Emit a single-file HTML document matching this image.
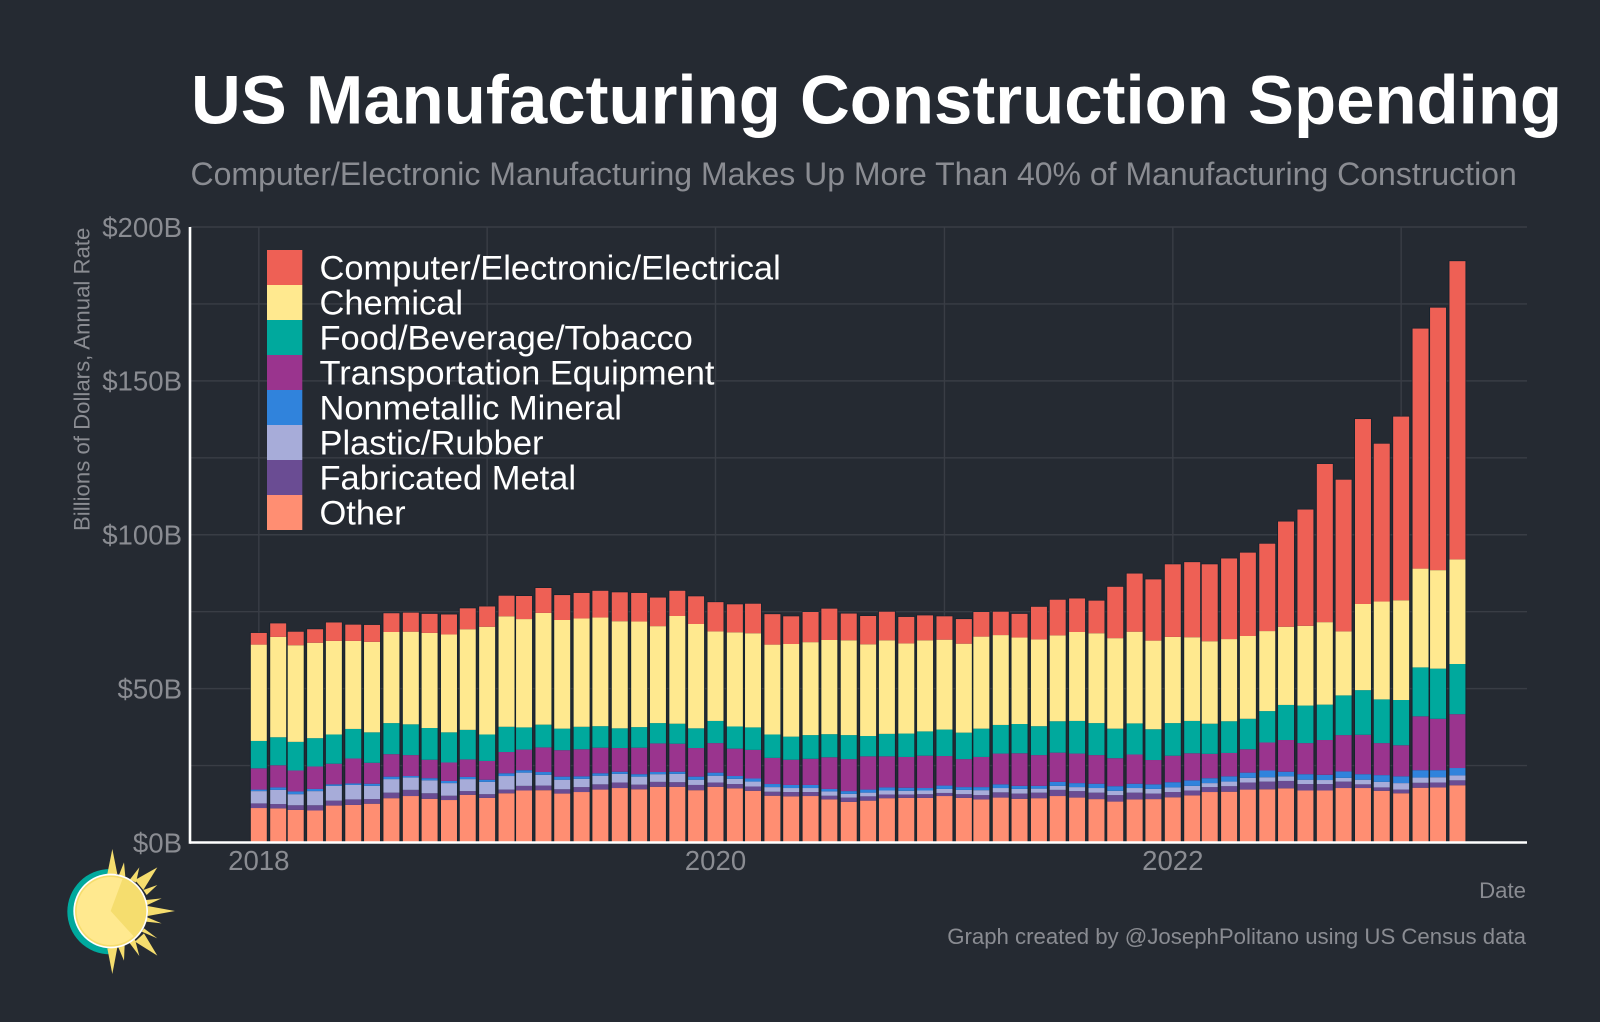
<!DOCTYPE html>
<html lang="en">
<head>
<meta charset="utf-8">
<title>US Manufacturing Construction Spending</title>
<style>
  html, body { margin: 0; padding: 0; background: #252A32; }
  #chart { display: block; width: 1600px; height: 1022px; font-family: "Liberation Sans", Arial, sans-serif; }
</style>
</head>
<body>
<svg id="chart" xmlns="http://www.w3.org/2000/svg" width="1600" height="1022" viewBox="0 0 1600 1022">
  <rect x="0" y="0" width="1600" height="1022" fill="#252A32"/>
  <text x="191" y="123.5" font-size="68.95" font-weight="700" fill="#ffffff">US Manufacturing Construction Spending</text>
  <text x="190.5" y="185" font-size="32" fill="#8A8C92">Computer/Electronic Manufacturing Makes Up More Than 40% of Manufacturing Construction</text>
  <g id="grid"></g>
  <g id="bars"></g>
  <g id="axes"></g>
  <g id="legend"></g>
  <text transform="translate(89.5,531) rotate(-90)" font-size="22.2" fill="#8A8C92">Billions of Dollars, Annual Rate</text>
  <text x="1526" y="898" text-anchor="end" font-size="22.2" fill="#8A8C92">Date</text>
  <text x="1526" y="944" text-anchor="end" font-size="22.2" fill="#8A8C92">Graph created by @JosephPolitano using US Census data</text>
  <g transform="translate(50,830) scale(0.3333)">
    <path d="M180 117 A128 128 0 0 0 180 373 Z" fill="#00A99D"/>
    <g fill="#F5DD6E">
      <polygon points="187,57 172,132 202,132"/>
      <polygon points="222,97 207,135 226,140"/>
      <polygon points="268,112 240,148 258,158"/>
      <polygon points="322,112 255,150 280,180"/>
      <polygon points="322,165 280,180 290,195"/>
      <polygon points="335,205 288,210 292,225"/>
      <polygon points="375,243 293,228 293,258"/>
      <polygon points="335,280 292,262 288,275"/>
      <polygon points="322,325 282,295 275,305"/>
      <polygon points="322,377 255,335 282,310"/>
      <polygon points="268,378 238,338 255,328"/>
      <polygon points="222,392 205,352 224,345"/>
      <polygon points="187,432 172,355 202,352"/>
    </g>
    <circle cx="182" cy="243" r="112" fill="#ffffff"/>
    <circle cx="182" cy="243" r="107" fill="#F5DD6E"/>
    <circle cx="182" cy="243" r="102" fill="#FFE98F"/>
    <path d="M182 243 L218 146 A104 104 0 0 1 252 320 Z" fill="#F5DD6E"/>
  </g>
</svg>
<script>
const months = [
"2018-01","2018-02","2018-03","2018-04","2018-05","2018-06","2018-07","2018-08","2018-09","2018-10","2018-11","2018-12",
"2019-01","2019-02","2019-03","2019-04","2019-05","2019-06","2019-07","2019-08","2019-09","2019-10","2019-11","2019-12",
"2020-01","2020-02","2020-03","2020-04","2020-05","2020-06","2020-07","2020-08","2020-09","2020-10","2020-11","2020-12",
"2021-01","2021-02","2021-03","2021-04","2021-05","2021-06","2021-07","2021-08","2021-09","2021-10","2021-11","2021-12",
"2022-01","2022-02","2022-03","2022-04","2022-05","2022-06","2022-07","2022-08","2022-09","2022-10","2022-11","2022-12",
"2023-01","2023-02","2023-03","2023-04"];

const other = [11.2,11.1,10.6,10.4,12.0,12.2,12.6,14.4,15.1,14.2,13.8,15.5,14.5,16.0,16.9,17.0,15.9,16.4,17.2,17.7,17.3,18.1,18.1,17.0,18.1,17.6,16.8,15.2,15.0,15.1,14.0,13.2,13.6,14.4,14.5,14.5,15.1,14.5,14.0,14.6,14.2,14.4,15.1,14.6,14.1,13.3,14.0,14.1,14.7,15.3,16.4,16.5,17.2,17.3,17.6,16.9,16.9,17.7,17.7,16.8,16.0,17.8,17.9,18.6];
const fabricatedMetal = [1.5,1.4,1.5,1.7,1.6,1.8,1.5,1.8,2.0,1.8,1.4,1.2,1.2,1.2,1.5,1.5,1.4,1.6,1.7,1.8,1.5,1.6,1.5,1.7,1.4,1.4,1.4,1.3,1.4,1.3,1.2,1.4,1.4,1.2,1.1,1.2,1.0,1.2,1.4,1.7,1.7,1.8,2.0,2.1,2.1,2.1,2.2,1.8,1.7,1.6,1.6,1.8,2.3,2.5,2.4,2.1,2.1,2.1,1.2,1.1,1.2,1.6,1.6,1.6];
const plasticRubber = [4.0,4.6,3.6,4.6,4.8,4.7,4.3,4.4,4.0,4.2,4.1,3.9,4.0,4.4,4.3,3.5,3.1,2.7,2.8,2.8,2.6,2.5,2.7,1.7,2.2,1.7,1.6,1.5,1.3,1.3,1.4,1.2,1.2,1.3,1.2,1.2,1.3,1.4,1.6,1.4,1.5,1.3,1.3,1.3,1.5,1.4,1.5,1.5,1.5,1.5,1.3,1.5,1.5,1.4,1.5,1.4,1.3,1.2,1.5,1.8,2.1,1.7,1.7,1.6];
const nonmetallicMineral = [0.5,0.8,0.9,0.7,0.5,0.5,0.7,0.8,0.5,0.7,0.7,0.7,0.7,0.9,0.8,0.9,1.0,0.8,0.8,0.7,0.8,0.7,0.7,1.0,1.0,0.9,1.0,1.0,1.0,1.0,0.8,0.9,1.0,1.0,1.0,0.8,1.1,0.9,1.0,1.2,1.0,0.9,1.3,1.3,1.4,1.5,1.4,1.5,1.7,1.8,1.6,1.7,1.7,2.2,1.5,1.8,1.7,2.1,1.8,2.2,2.2,2.4,2.3,2.4];
const transportation = [6.9,7.2,6.8,7.3,6.7,8.1,6.8,7.3,6.8,6.0,6.0,5.7,6.1,6.9,6.7,8.0,8.6,8.8,8.3,7.7,8.6,9.3,9.1,9.3,9.6,8.9,9.3,8.5,8.2,8.5,10.3,10.4,10.8,10.1,10.0,10.5,9.6,9.1,9.8,10.0,10.6,10.0,9.5,9.6,9.3,9.1,9.5,7.9,8.6,8.8,7.9,7.6,7.6,9.1,10.3,10.1,11.3,11.8,12.8,10.4,10.1,17.5,16.7,17.5];
const foodBeverage = [8.9,9.1,9.3,9.2,9.5,9.6,9.9,10.1,10.0,10.3,9.8,9.6,8.6,8.2,7.2,7.4,7.0,7.3,7.0,6.4,6.7,6.6,6.5,6.4,7.2,7.2,7.3,7.6,7.5,7.7,7.5,7.8,6.6,7.3,7.6,7.9,8.6,8.6,9.2,9.3,9.5,9.4,10.2,10.6,10.4,9.6,10.1,10.0,10.6,10.5,9.8,10.3,9.9,10.2,11.4,12.2,11.5,12.9,14.5,14.2,14.7,15.9,16.3,16.3];
const chemical = [31.3,32.6,31.4,31.0,30.4,28.6,29.4,29.6,30.1,30.9,31.8,32.7,35.0,35.9,35.2,36.3,35.3,35.2,35.3,34.8,34.3,31.5,35.0,33.9,29.1,30.6,30.6,29.2,30.1,30.2,30.6,30.8,29.8,30.4,29.3,29.6,29.2,28.9,29.9,29.2,28.1,28.2,27.9,28.9,29.2,29.4,29.8,28.8,28.0,27.2,26.8,26.7,26.9,26.0,25.4,25.9,26.8,20.8,28.0,31.8,32.4,32.1,32.0,34.0];
const computerElectronic = [3.8,4.4,4.4,4.4,6.0,5.3,5.5,6.1,6.2,6.2,6.5,6.8,6.6,6.7,7.5,8.1,8.1,8.3,8.7,9.4,9.3,9.3,8.2,9.0,9.5,9.1,9.6,9.9,9.0,9.8,10.2,8.7,9.2,9.3,8.6,8.1,7.6,8.0,8.0,7.6,7.7,10.6,11.6,10.9,10.6,16.7,18.9,19.9,23.6,24.4,25.0,26.2,27.1,28.4,34.2,37.8,51.4,49.3,60.1,51.3,59.7,78.0,85.3,96.9];

const stackNames = ["Other","Fabricated Metal","Plastic/Rubber","Nonmetallic Mineral","Transportation Equipment","Food/Beverage/Tobacco","Chemical","Computer/Electronic/Electrical"];
const stackColors = ["#FF8E72","#6A4C93","#A7ACD9","#3083DC","#9A348E","#00A99D","#FFE98F","#EE6055"];
const stackValues = [other, fabricatedMetal, plasticRubber, nonmetallicMineral, transportation, foodBeverage, chemical, computerElectronic];

const yTickValues = [0,50,100,150,200];
const yTickLabels = ["$0B","$50B","$100B","$150B","$200B"];
const yMinorValues = [25,75,125,175];
const xGridYears = ["2018","2019","2020","2021","2022","2023"];
const xTickYears = ["2018","2020","2022"];

const NS = "http://www.w3.org/2000/svg";
const plot = { left: 190, right: 1527, top: 227, bottom: 842.5 };
const barWidth = 16;
const originMs = Date.UTC(2018, 0, 1);

function xScale(key) {
  const parts = key.split("-");
  const month = parts.length > 1 ? Number(parts[1]) - 1 : 0;
  const days = (Date.UTC(Number(parts[0]), month, 1) - originMs) / 86400000;
  return 258.8 + days * 0.6256;
}
function yScale(value) {
  return plot.bottom - value * (plot.bottom - plot.top) / 200;
}
function make(tag, parent, attrs, text) {
  const el = document.createElementNS(NS, tag);
  for (const k in attrs) el.setAttribute(k, attrs[k]);
  if (text !== undefined) el.textContent = text;
  parent.appendChild(el);
  return el;
}

const gridG = document.getElementById("grid");
const barsG = document.getElementById("bars");
const axesG = document.getElementById("axes");
const legendG = document.getElementById("legend");

yMinorValues.concat(yTickValues.slice(1)).forEach(function (v) {
  const line = make("line", gridG, { x1: plot.left, x2: plot.right, y1: yScale(v), y2: yScale(v), stroke: "#393D45", "stroke-width": 1.4 });
  
  
});
xGridYears.forEach(function (yr) {
  const line = make("line", gridG, { x1: xScale(yr), x2: xScale(yr), y1: plot.top, y2: plot.bottom, stroke: "#393D45", "stroke-width": 1.4 });
  
  
});

months.forEach(function (m, i) {
  let total = 0;
  stackValues.forEach(function (series) { total += series[i]; });
  const cx = xScale(m);
  const halo = make("rect", barsG, { x: cx - barWidth / 2 - 0.9, y: yScale(total) - 0.7, width: barWidth + 1.8, height: yScale(0) - yScale(total) + 0.7, fill: "#10202C", opacity: 0.75 });
  
  
  let cum = 0;
  stackValues.forEach(function (series, s) {
    const y0 = yScale(cum);
    cum += series[i];
    const y1 = yScale(cum);
    const r = make("rect", barsG, { x: cx - barWidth / 2, y: y1, width: barWidth, height: y0 - y1, fill: stackColors[s] });
    
    
    const t = document.createElementNS(NS, "title");
    t.textContent = stackNames[s] + " " + m + ": $" + series[i] + "B";
    r.appendChild(t);
  });
});

const yAxisLine = make("line", axesG, { x1: plot.left, x2: plot.left, y1: plot.top, y2: plot.bottom + 1.3, stroke: "#ffffff", "stroke-width": 2.6 });


const xAxisLine = make("line", axesG, { x1: plot.left, x2: plot.right, y1: plot.bottom, y2: plot.bottom, stroke: "#ffffff", "stroke-width": 2.6 });



yTickValues.forEach(function (v, i) {
  const t = make("text", axesG, { x: 182, y: yScale(v) + 9.8, "text-anchor": "end", "font-size": 27.6, fill: "#8A8C92" }, yTickLabels[i]);
  
  
});
xTickYears.forEach(function (yr) {
  const t = make("text", axesG, { x: xScale(yr), y: 870, "text-anchor": "middle", "font-size": 27.6, fill: "#8A8C92" }, yr);
  
  
});

const legendOrder = [7,6,5,4,3,2,1,0];
legendOrder.forEach(function (s, i) {
  const top = 250 + i * 35;
  const key = make("rect", legendG, { x: 267, y: top, width: 35.3, height: 35, fill: stackColors[s] });
  
  
  const label = make("text", legendG, { x: 319.5, y: top + 29.3, "font-size": 34.45, fill: "#ffffff" }, stackNames[s]);
  
  
});
</script>
</body>
</html>
